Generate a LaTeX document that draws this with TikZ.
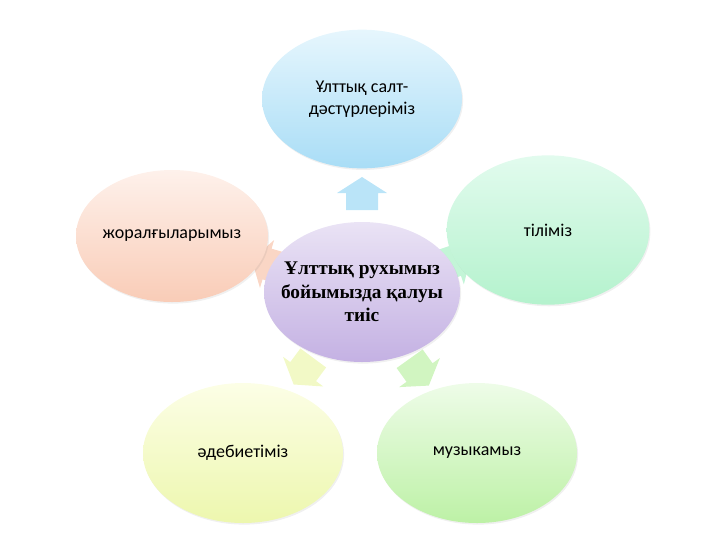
\documentclass[tikz,border=0pt]{standalone}
\usepackage{fontspec}
\setmainfont{Carlito}
\newfontfamily\ruhfont{Liberation Serif}
\usetikzlibrary{shapes.geometric,calc,shadows,backgrounds}

\definecolor{ruhtop}{HTML}{EAE3F5}
\definecolor{ruhbot}{HTML}{C4B1E3}
\definecolor{salttop}{HTML}{E6F6FD}
\definecolor{saltbot}{HTML}{A9DDF6}
\definecolor{tiltop}{HTML}{E2FBEE}
\definecolor{tilbot}{HTML}{B4F2CD}
\definecolor{zhortop}{HTML}{FEF1EB}
\definecolor{zhorbot}{HTML}{F9CCB7}
\definecolor{adebtop}{HTML}{FCFEE6}
\definecolor{adebbot}{HTML}{EDF7AE}
\definecolor{muztop}{HTML}{EEFCE8}
\definecolor{muzbot}{HTML}{BDF1A6}

\tikzset{
  bubble/.style={ellipse, inner sep=0pt,
    drop shadow={opacity=0.12, shadow xshift=0.8pt, shadow yshift=-1.2pt}},
  bubbletext/.style={align=center, font=\fontsize{13.5}{16.5}\selectfont},
  ruhtext/.style={align=center, font=\ruhfont\fontsize{14.5}{17.5}\selectfont\bfseries},
  blockarr/.pic={\path[pic actions] (0,-16) -- (17,-16) -- (17,-25) -- (33,0)
    -- (17,25) -- (17,16) -- (0,16) -- cycle;}
}

% block arrow from the middle bubble towards an outer one
\newcommand{\radarrow}[3]{%
  \path let \p1=($(#2)-(#1)$), \n1={atan2(\y1,\x1)} in
    ($(#1)!61.5pt!(#2)$) pic[rotate=\n1, fill=#3] {blockarr};
}

\begin{document}
\begin{tikzpicture}[x=0.75pt,y=-0.75pt]
  \useasboundingbox (0,0) rectangle (720,540);

  % middle
  \node[bubble, minimum width=147pt, minimum height=105pt,
        top color=ruhtop, bottom color=ruhbot,
        label={[ruhtext]center:{Ұлттық рухымыз\\бойымызда қалуы\\тиіс}}] (ruh) at (362,292) {};

  % outer bubbles
  \node[bubble, minimum width=150pt, minimum height=104pt,
        top color=salttop, bottom color=saltbot,
        label={[bubbletext]center:{Ұлттық салт-\\дәстүрлеріміз}}] (salt) at (362,99) {};
  \node[bubble, minimum width=152pt, minimum height=112pt,
        top color=tiltop, bottom color=tilbot,
        label={[bubbletext]center:тіліміз}] (til) at (548,230) {};
  \node[bubble, minimum width=150pt, minimum height=105pt,
        top color=muztop, bottom color=muzbot,
        label={[bubbletext]center:музыкамыз}] (muz) at (477,453) {};
  \node[bubble, minimum width=150pt, minimum height=105pt,
        top color=adebtop, bottom color=adebbot,
        label={[bubbletext]center:әдебиетіміз}] (adeb) at (243,453) {};
  \node[bubble, minimum width=144pt, minimum height=99pt,
        top color=zhortop, bottom color=zhorbot,
        label={[bubbletext]center:жоралғыларымыз}] (zhor) at (172,236) {};

  % arrows behind the bubbles
  \begin{scope}[on background layer]
    \radarrow{ruh}{salt}{saltbot!80}
    \radarrow{ruh}{til}{tilbot!80}
    \radarrow{ruh}{muz}{muzbot!70}
    \radarrow{ruh}{adeb}{adebbot!70}
    \radarrow{ruh}{zhor}{zhorbot!80}
  \end{scope}
\end{tikzpicture}
\end{document}
